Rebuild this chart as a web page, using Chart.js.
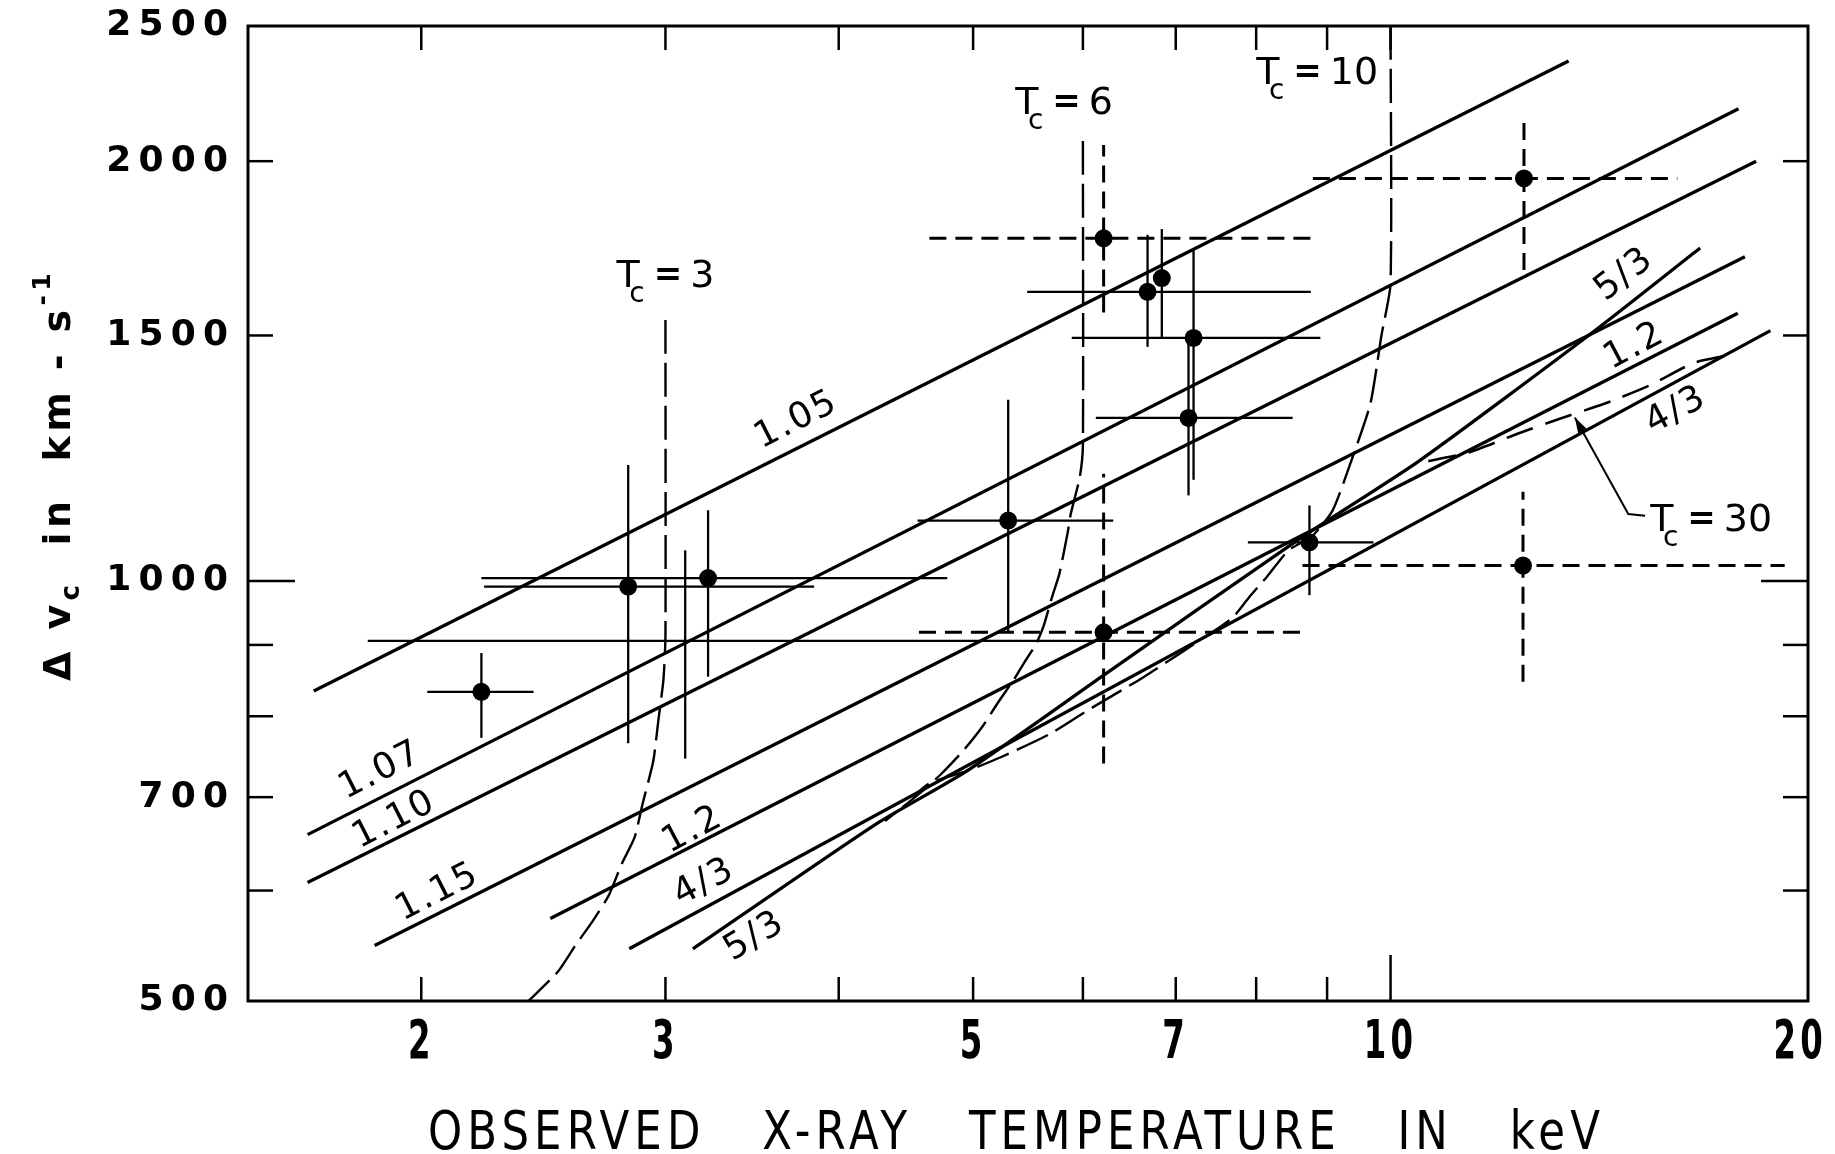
<!DOCTYPE html>
<html>
<head>
<meta charset="utf-8">
<title>Delta v_c vs observed X-ray temperature</title>
<style>
  html, body { margin: 0; padding: 0; background: #fff; }
  canvas { display: block; }
</style>
<script src="https://cdn.jsdelivr.net/npm/chart.js@4.4.1/dist/chart.umd.min.js"></script>
</head>
<body>
<canvas id="chart" width="1835" height="1154"></canvas>
<script>
// axis ticks
const xTicks = [2, 3, 4, 5, 6, 7, 8, 9, 10, 20];
const xLabels = [2, 3, 5, 7, 10, 20];
const yTicks = [500, 600, 700, 800, 900, 1000, 1500, 2000, 2500];
const yLabels = [500, 700, 1000, 1500, 2000, 2500];

// lines of constant gamma  [T keV, dv km/s]
const gamma105 = [[1.673, 834], [13.44, 2360]];
const gamma107 = [[1.656, 658], [17.82, 2181]];
const gamma110 = [[1.656, 608], [18.35, 2000]];
const gamma115 = [[1.851, 548], [18.01, 1708]];
const gamma120 = [[2.478, 573], [17.80, 1556]];
const gamma133 = [[2.825, 545], [18.79, 1512]];
const gamma167 = [[3.14, 545], [4.25, 669], [4.95, 731], [6.19, 854], [8.57, 1070],
                  [10.47, 1218], [13.93, 1503], [16.72, 1733]];

// loci of constant central temperature (dashed)
const tc3 = [[3.0, 1539], [3.0, 913], [2.99, 850], [2.965, 795], [2.94, 743], [2.89, 694],
             [2.85, 655], [2.79, 627], [2.73, 595], [2.66, 571], [2.58, 547], [2.51, 525], [2.39, 500]];
const tc6 = [[6.0, 2068], [6.0, 1252], [5.97, 1188], [5.88, 1117], [5.85, 1083], [5.77, 1012],
             [5.70, 974], [5.62, 928], [5.55, 901], [5.45, 876], [5.35, 850], [5.21, 818],
             [5.08, 787], [4.92, 756], [4.74, 727], [4.58, 705], [4.32, 673]];
const tc10 = [[10, 2500], [10, 1634], [9.85, 1500], [9.67, 1340], [9.34, 1209], [9.08, 1123],
              [8.77, 1076], [8.44, 1052], [8.15, 1008], [7.91, 974], [7.70, 942], [7.52, 926],
              [6.63, 853], [6.05, 808], [5.68, 777], [5.24, 748], [4.95, 731], [4.65, 716], [4.52, 700]];
const tc30 = [[17.40, 1450], [16.53, 1433], [15.39, 1382], [14.29, 1341], [13.23, 1307],
              [12.36, 1276], [11.37, 1236], [10.47, 1215]];

// observed clusters with error bars
const obsT   = [2.21, 2.82, 3.22, 3.10, 5.30, 6.21, 6.21, 6.68, 6.84, 7.21, 7.15, 8.74, 12.48, 12.46];
const obsV   = [833, 991, 1005, 906, 1105, 919, 1761, 1612, 1649, 1494, 1309, 1066, 1944, 1026];
const obsTlo = [2.02, 2.22, 2.21, 1.83, 4.56, 4.57, 4.65, 5.47, null, 5.89, 6.13, 7.89, 8.79, 8.64];
const obsThi = [2.41, 3.84, 4.79, 6.72, 6.31, 8.66, 8.79, 8.76, null, 8.90, 8.50, 9.72, 16.10, 19.24];
const obsVlo = [772, 765, 854, 746, 919, 740, 1558, 1472, 1493, 1182, 1152, 977, 1671, 847];
const obsVhi = [888, 1211, 1124, 1052, 1349, 1194, 2054, 1771, 1788, 1726, 1495, 1133, 2156, 1159];
const obsDashed = [0, 0, 0, 0, 0, 1, 1, 0, 0, 0, 0, 0, 1, 1];
const obsMarked = [1, 1, 1, 0, 1, 1, 1, 1, 1, 1, 1, 1, 1, 1];

// curve labels
const gammaLabelText = ['1.05', '1.07', '1.10', '1.15', '1.2', '4/3', '5/3', '5/3', '1.2', '4/3'];
const gammaLabelT = [3.73, 1.87, 1.913, 2.056, 3.14, 3.20, 3.48, 14.75, 15.0, 16.07];
const gammaLabelV = [1304, 731, 674, 598, 663, 608, 556, 1658, 1473, 1325];
const tcLabelText = ['3', '6', '10', '30'];
const tcLabelT = [2.766, 5.362, 8.0, 15.39];
const tcLabelV = [1625, 2162, 2273, 1086];
const tc30Leader = [[13.58, 1310], [14.84, 1117], [15.26, 1114]];

const gammaLabelAngle = [-27, -27, -27, -27, -28, -28, -31, -38, -28, -28];

const pts = arr => arr.map(([x, y]) => ({ x, y }));

function curve(arr, width, dash, tension) {
    return {
        data: pts(arr),
        showLine: true,
        borderColor: "#000",
        borderWidth: width,
        borderDash: dash || [],
        pointRadius: 0,
        tension: tension || 0,
        fill: false
    };
}

// error bars, drawn under the lines and dots
const errorBars = {
    id: "errorBars",
    beforeDatasetsDraw(chart) {
        const { ctx, chartArea: a, scales: { x, y } } = chart;
        ctx.save();
        ctx.beginPath();
        ctx.rect(a.left, a.top, a.right - a.left, a.bottom - a.top);
        ctx.clip();
        ctx.strokeStyle = "#000";
        const seg = (x1, y1, x2, y2) => {
            ctx.beginPath();
            ctx.moveTo(x1, y1);
            ctx.lineTo(x2, y2);
            ctx.stroke();
        };
        obsT.forEach((t, i) => {
            const dashed = obsDashed[i] === 1;
            ctx.lineWidth = dashed ? 3 : 2.3;
            ctx.setLineDash(dashed ? [17, 9] : []);
            const px = x.getPixelForValue(t);
            const py = y.getPixelForValue(obsV[i]);
            if (obsTlo[i] !== null) {
                seg(x.getPixelForValue(obsTlo[i]), py, x.getPixelForValue(obsThi[i]), py);
            }
            seg(px, y.getPixelForValue(obsVlo[i]), px, y.getPixelForValue(obsVhi[i]));
        });
        ctx.restore();
    }
};

// box with inward ticks on all four sides, plus the narrow x tick numbers
const frameTicks = {
    id: "frameTicks",
    afterDatasetsDraw(chart) {
        const { ctx, chartArea: a, scales: { x, y } } = chart;
        ctx.save();
        ctx.strokeStyle = "#000";
        ctx.lineWidth = 3;
        ctx.strokeRect(a.left, a.top, a.right - a.left, a.bottom - a.top);
        ctx.lineWidth = 2.5;
        const seg = (x1, y1, x2, y2) => {
            ctx.beginPath();
            ctx.moveTo(x1, y1);
            ctx.lineTo(x2, y2);
            ctx.stroke();
        };
        xTicks.forEach(v => {
            if (v <= x.min || v >= x.max) return;
            const px = x.getPixelForValue(v);
            seg(px, a.bottom, px, a.bottom - (v === 10 ? 46 : 24));
            seg(px, a.top, px, a.top + 24);
        });
        yTicks.forEach(v => {
            if (v <= y.min || v >= y.max) return;
            const py = y.getPixelForValue(v);
            const len = v === 1000 ? 47 : 25;
            seg(a.left, py, a.left + len, py);
            seg(a.right, py, a.right - len, py);
        });

        // x tick numbers: tall, narrow lettering
        ctx.fillStyle = "#000";
        ctx.font = 'bold 54px "DejaVu Sans"';
        ctx.textAlign = "center";
        ctx.textBaseline = "alphabetic";
        ctx.letterSpacing = "7px";
        const squeeze = 0.6;
        xLabels.forEach(v => {
            const s = String(v);
            const w = ctx.measureText(s).width * squeeze;
            let px = x.getPixelForValue(v);
            px = Math.min(px, chart.width - 8 - w / 2);
            ctx.save();
            ctx.translate(px, a.bottom + 57);
            ctx.scale(squeeze, 1);
            ctx.fillText(s, 0, 0);
            ctx.restore();
        });
        ctx.restore();
    }
};

// texts: curve labels, T_c labels, axis titles
const texts = {
    id: "texts",
    afterDraw(chart) {
        const { ctx, scales: { x, y } } = chart;
        ctx.save();
        ctx.fillStyle = "#000";
        ctx.strokeStyle = "#000";

        ctx.font = '36px "DejaVu Sans"';
        ctx.textAlign = "center";
        ctx.textBaseline = "middle";
        ctx.letterSpacing = "2px";
        gammaLabelText.forEach((t, i) => {
            ctx.save();
            ctx.translate(x.getPixelForValue(gammaLabelT[i]), y.getPixelForValue(gammaLabelV[i]));
            ctx.rotate(gammaLabelAngle[i] * Math.PI / 180);
            ctx.fillText(t, 0, 0);
            ctx.restore();
        });

        // T_c = n
        ctx.textAlign = "left";
        ctx.textBaseline = "alphabetic";
        ctx.letterSpacing = "0px";
        tcLabelText.forEach((t, i) => {
            const px = x.getPixelForValue(tcLabelT[i]);
            const py = y.getPixelForValue(tcLabelV[i]);
            ctx.font = '38px "DejaVu Sans"';
            const wT = ctx.measureText("T").width;
            ctx.fillText("T", px, py);
            ctx.font = '28px "DejaVu Sans"';
            const cx0 = px + wT * 0.55;
            ctx.fillText("c", cx0, py + 15);
            const wc = ctx.measureText("c").width;
            ctx.font = 'bold 34px "DejaVu Sans"';
            const ex = cx0 + wc + 9;
            ctx.fillText("=", ex, py - 2);
            const we = ctx.measureText("=").width;
            ctx.font = '38px "DejaVu Sans"';
            ctx.fillText(t, ex + we + 8, py);
        });

        // leader from the T_c = 30 label
        const lp = tc30Leader.map(([t, v]) => [x.getPixelForValue(t), y.getPixelForValue(v)]);
        ctx.lineWidth = 2;
        ctx.beginPath();
        ctx.moveTo(lp[0][0], lp[0][1]);
        ctx.lineTo(lp[1][0], lp[1][1]);
        ctx.lineTo(lp[2][0], lp[2][1]);
        ctx.stroke();
        const ang = Math.atan2(lp[0][1] - lp[1][1], lp[0][0] - lp[1][0]);
        ctx.beginPath();
        ctx.moveTo(lp[0][0], lp[0][1]);
        ctx.lineTo(lp[0][0] - 16 * Math.cos(ang - 0.3), lp[0][1] - 16 * Math.sin(ang - 0.3));
        ctx.lineTo(lp[0][0] - 16 * Math.cos(ang + 0.3), lp[0][1] - 16 * Math.sin(ang + 0.3));
        ctx.closePath();
        ctx.fill();

        // x axis title: narrow capitals, spread to the printed width
        const title = "OBSERVED   X-RAY   TEMPERATURE   IN   keV";
        const sq = 0.82;
        ctx.font = '53px "DejaVu Sans"';
        ctx.letterSpacing = "0px";
        const w0 = ctx.measureText(title).width;
        ctx.letterSpacing = ((1177 / sq - w0) / title.length) + "px";
        ctx.save();
        ctx.translate(428, 1149);
        ctx.scale(sq, 1);
        ctx.fillText(title, 0, 0);
        ctx.restore();

        // y axis title, rotated, stretched to the printed length
        ctx.save();
        ctx.translate(70, 475);
        ctx.rotate(-Math.PI / 2);
        const parts = [
            { t: "\u0394 v", f: 'bold 38px "DejaVu Sans"', dy: 0 },
            { t: "c", f: 'bold 26px "DejaVu Sans"', dy: 9 },
            { t: "  in  km - s", f: 'bold 38px "DejaVu Sans"', dy: 0 },
            { t: "-1", f: 'bold 25px "DejaVu Sans"', dy: -20 }
        ];
        ctx.letterSpacing = "0px";
        let raw = 0, nChars = 0;
        parts.forEach(p => {
            ctx.font = p.f;
            raw += ctx.measureText(p.t).width;
            nChars += p.t.length;
        });
        ctx.letterSpacing = Math.max(0, (412 - raw) / nChars) + "px";
        let total = 0;
        parts.forEach(p => {
            ctx.font = p.f;
            p.w = ctx.measureText(p.t).width;
            total += p.w;
        });
        let cx = -total / 2;
        parts.forEach(p => {
            ctx.font = p.f;
            ctx.fillText(p.t, cx, p.dy);
            cx += p.w;
        });
        ctx.restore();

        ctx.restore();
    }
};

document.addEventListener("DOMContentLoaded", () => {
    const canvas = document.getElementById("chart");
    const ctx = canvas.getContext("2d");

    new Chart(ctx, {
        type: "scatter",
        data: {
            datasets: [
                curve(gamma105, 3.3),
                curve(gamma107, 3.3),
                curve(gamma110, 3.3),
                curve(gamma115, 3.3),
                curve(gamma120, 3.3),
                curve(gamma133, 3.3),
                curve(gamma167, 3.3, [], 0.2),
                curve(tc3, 2.4, [34, 9], 0.2),
                curve(tc6, 2.4, [34, 9], 0.2),
                curve(tc10, 2.4, [34, 9], 0.2),
                curve(tc30, 2.6, [28, 13], 0.2),
                {
                    data: obsT.map((t, i) => ({ x: t, y: obsV[i] })),
                    pointRadius: obsMarked.map(m => (m ? 9 : 0)),
                    pointBackgroundColor: "#000",
                    pointBorderColor: "#000",
                    pointBorderWidth: 0,
                    showLine: false
                }
            ]
        },
        options: {
            responsive: false,
            animation: false,
            events: [],
            layout: { padding: { left: 0, right: 27, top: 26, bottom: 0 } },
            plugins: {
                legend: { display: false },
                tooltip: { enabled: false }
            },
            scales: {
                x: {
                    type: "logarithmic",
                    min: 1.5,
                    max: 20,
                    afterBuildTicks: s => { s.ticks = xTicks.map(v => ({ value: v })); },
                    afterFit: s => {
                        s.height = 153;
                        s.paddingLeft = 0;
                        s.paddingRight = 0;
                    },
                    grid: { display: false, drawTicks: false },
                    border: { display: false },
                    ticks: { display: false }
                },
                y: {
                    type: "logarithmic",
                    min: 500,
                    max: 2500,
                    afterBuildTicks: s => { s.ticks = yTicks.map(v => ({ value: v })); },
                    afterFit: s => {
                        s.width = 248;
                        s.paddingTop = 0;
                        s.paddingBottom = 0;
                    },
                    grid: { display: false, drawTicks: false },
                    border: { display: false },
                    ticks: {
                        autoSkip: false,
                        padding: 20,
                        color: "#000",
                        font: { family: "'DejaVu Sans'", size: 36, weight: "bold" },
                        callback: v => (yLabels.includes(v) ? String(v).split("").join("\u2009") : "")
                    }
                }
            }
        },
        plugins: [errorBars, frameTicks, texts]
    });
});
</script>
</body>
</html>
